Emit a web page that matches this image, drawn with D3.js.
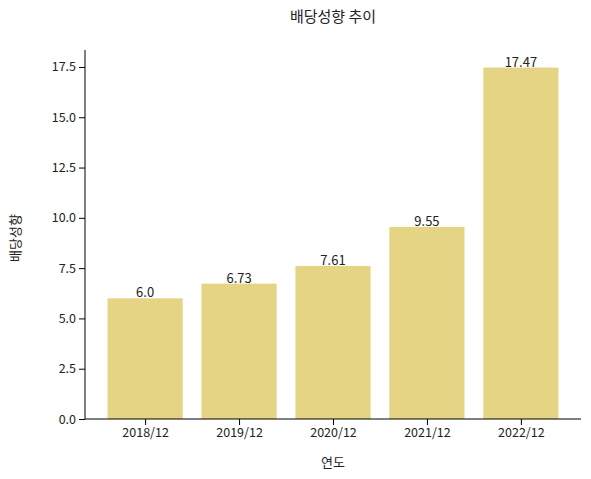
<!DOCTYPE html>
<html><head><meta charset="utf-8">
<script src="https://cdn.jsdelivr.net/npm/d3@7"></script>
<style>body{margin:0;background:#fff}text{font-family:"Noto Sans CJK KR","Noto Sans",sans-serif;fill:#222}</style>
</head><body><svg id="chart" width="591" height="479"></svg>
<script>
var years = ["2018/12", "2019/12", "2020/12", "2021/12", "2022/12"];
var payout = [6.0, 6.73, 7.61, 9.55, 17.47];
var labels = ["6.0", "6.73", "7.61", "9.55", "17.47"];
var yTicks = [0, 2.5, 5, 7.5, 10, 12.5, 15, 17.5];

var svg = d3.select("#chart");
var plotLeft = 85, plotRight = 581, plotTop = 50, plotBottom = 419;

var x = d3.scaleLinear().domain([-0.64, 4.64]).range([plotLeft, plotRight]);
var y = d3.scaleLinear().domain([0, d3.max(payout) * 1.05]).range([plotBottom, plotTop]);
var bw = x(0.4) - x(-0.4);

svg.selectAll("rect.bar").data(payout).enter().append("rect")
    .attr("x", function(d, i) { return x(i) - bw / 2; })
    .attr("y", function(d) { return y(d); })
    .attr("width", bw)
    .attr("height", function(d) { return plotBottom - y(d); })
    .attr("fill", "#e5d483");

svg.selectAll("text.val").data(payout).enter().append("text")
    .attr("x", function(d, i) { return x(i); })
    .attr("y", function(d) { return y(d) - 1; })
    .attr("text-anchor", "middle").attr("font-size", 13)
    .text(function(d, i) { return labels[i]; });

var yAxis = svg.append("g").attr("transform", "translate(" + plotLeft + ",0)")
    .call(d3.axisLeft(y).tickValues(yTicks).tickFormat(d3.format(".1f")).tickSizeOuter(0));
var xAxis = svg.append("g").attr("transform", "translate(0," + plotBottom + ")")
    .call(d3.axisBottom(x).tickValues(d3.range(years.length)).tickFormat(function(i) { return years[i]; }).tickSizeOuter(0));
[yAxis, xAxis].forEach(function(g) {
    g.selectAll("text").attr("font-size", 12.5).style("font-family", '"Noto Sans CJK KR","Noto Sans",sans-serif').attr("fill", "#222");
    g.selectAll("line,path").attr("stroke", "#000");
});
yAxis.select(".domain").attr("d", "M0," + plotBottom + "V" + plotTop);
xAxis.select(".domain").attr("d", "M" + plotLeft + ",0H" + plotRight);

svg.append("text").attr("x", 333).attr("y", 22).attr("text-anchor", "middle")
    .attr("font-size", 15).text("배당성향 추이");
svg.append("text").attr("x", 333).attr("y", 467).attr("text-anchor", "middle")
    .attr("font-size", 13).text("연도");
svg.append("text").attr("transform", "translate(20,238) rotate(-90)").attr("text-anchor", "middle")
    .attr("font-size", 13).text("배당성향");
</script></body></html>
